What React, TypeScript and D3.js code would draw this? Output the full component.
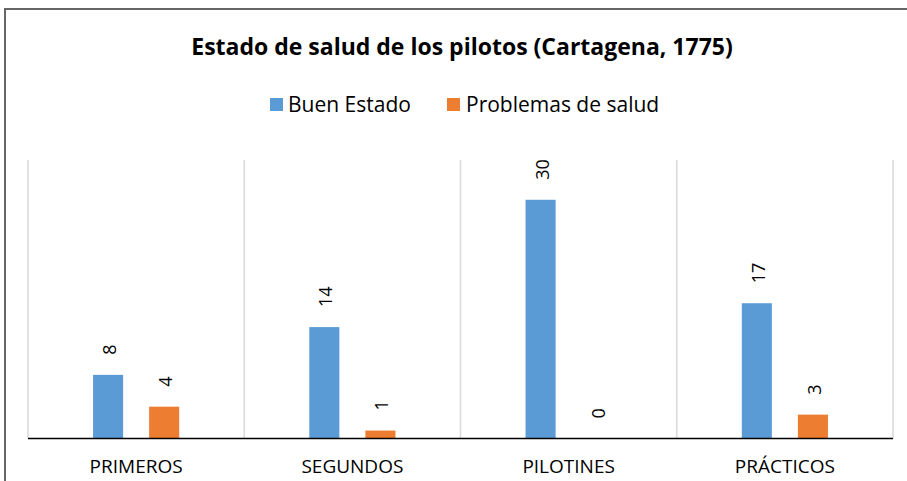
import * as d3 from "d3";

const categories = ["PRIMEROS", "SEGUNDOS", "PILOTINES", "PRÁCTICOS"];
const seriesNames = ["Buen Estado", "Problemas de salud"];
const buenEstado = [8, 14, 30, 17];
const problemas = [4, 1, 0, 3];
const colors = ["#5B9BD5", "#ED7D31"];

const W = 907;
const H = 481;
const left = 28;
const right = 893;
const top = 160;
const bottom = 438.5;
const font = "'Open Sans', 'Noto Sans', sans-serif";

export default function App() {
  const x = d3.scaleBand().domain(categories).range([left, right]).padding(0);
  const xs = d3
    .scaleBand()
    .domain(seriesNames)
    .range([0, x.bandwidth()])
    .paddingInner(0.464)
    .paddingOuter(1.16);
  const y = d3.scaleLinear().domain([0, 35]).range([bottom, top]);

  const values = [buenEstado, problemas];
  const gridX = [...categories.map((c) => x(c)), right];

  return (
    <svg
      width={W}
      height={H}
      style={{ position: "absolute", left: 0, top: 0, background: "#fff" }}
      fontFamily={font}
    >
      <rect x={5} y={9} width={W} height={H} fill="#fff" stroke="#666" strokeWidth={2} />
      <text x={462} y={55} textAnchor="middle" fontSize={23} fontWeight="bold" fill="#000">
        Estado de salud de los pilotos (Cartagena, 1775)
      </text>
      <g fontSize={21} fill="#000">
        <rect x={270} y={98} width={13} height={13} fill={colors[0]} />
        <text x={288} y={112}>{seriesNames[0]}</text>
        <rect x={447} y={98} width={13} height={13} fill={colors[1]} />
        <text x={466} y={112}>{seriesNames[1]}</text>
      </g>
      {gridX.map((gx, i) => (
        <line key={i} x1={gx} x2={gx} y1={top} y2={bottom} stroke="#d9d9d9" strokeWidth={1.5} />
      ))}
      {categories.map((c, ci) =>
        seriesNames.map((s, si) => {
          const v = values[si][ci];
          const bx = (x(c) as number) + (xs(s) as number);
          const cx = bx + xs.bandwidth() / 2;
          const ly = y(v) - 20;
          return (
            <g key={c + s}>
              <rect x={bx} y={y(v)} width={xs.bandwidth()} height={bottom - y(v)} fill={colors[si]} />
              <text
                transform={`translate(${cx + 8},${ly}) rotate(-90)`}
                fontSize={18}
                textAnchor="start"
                fill="#000"
              >
                {v}
              </text>
            </g>
          );
        })
      )}
      <line x1={left} x2={right} y1={bottom} y2={bottom} stroke="#000" strokeWidth={1.5} />
      {categories.map((c) => (
        <text
          key={c}
          x={(x(c) as number) + x.bandwidth() / 2}
          y={473}
          textAnchor="middle"
          fontSize={19}
          fill="#000"
        >
          {c}
        </text>
      ))}
    </svg>
  );
}
